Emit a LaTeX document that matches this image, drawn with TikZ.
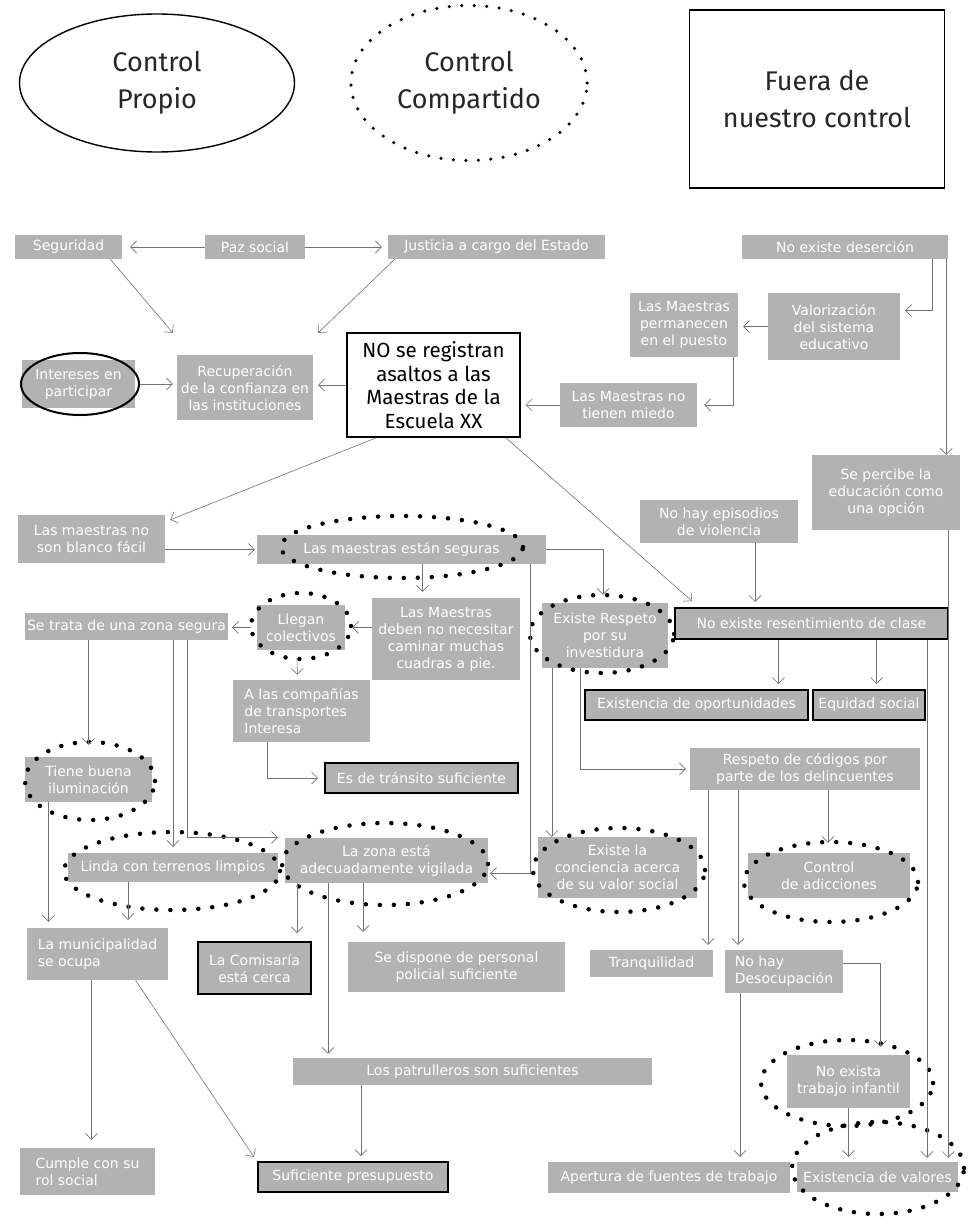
\documentclass[tikz,border=0pt]{standalone}
\usepackage{fontspec}
\setmainfont{DejaVu Sans}
\newfontfamily\legfont{Fira Sans}
\usetikzlibrary{arrows.meta,calc,shapes.geometric}

\begin{document}
\begin{tikzpicture}[x=1pt,y=-1pt,>={Straight Barb[length=6pt,width=12pt]},
  gb/.style={fill=black!30,text=white,font=\fontsize{14}{17}\selectfont,align=center,inner sep=1pt},
  tb/.style={gb,draw=black,line width=2pt},
  sz/.style 2 args={minimum width=#1pt,minimum height=#2pt},
  ar/.style={->,draw=black!55,line width=0.6pt},
  dring/.style={line width=4.5pt,dash pattern=on 0pt off 14pt,line cap=round},
  leg/.style={font=\legfont\fontsize{27}{37}\selectfont,align=center,text=black!85}]
\fill[white] (0,0) rectangle (975,1225);
\useasboundingbox (0,0) rectangle (975,1225);
% legend
\node[leg,draw,ellipse,line width=1.4pt,sz={275}{138}] (propio) at (157,83) {Control\\Propio};
\node[leg,draw,ellipse,line width=3.5pt,dash pattern=on 0pt off 12.5pt,line cap=round,sz={236}{155}] (compart) at (469,83) {Control\\Compartido};
\node[leg,draw,line width=1.4pt,sz={255}{178}] (fuera) at (817,99) {Fuera de\\nuestro control};
% boxes
\node[gb,sz={107}{24}] (seg) at (68.5,247) {Seguridad};
\node[gb,sz={100}{24}] (paz) at (255,247) {Paz social};
\node[gb,sz={217}{24}] (just) at (496.5,247) {Justicia a cargo del Estado};
\node[gb,sz={206}{24}] (des) at (845,247) {No existe deserción};
\node[gb,sz={108}{64}] (perm) at (684,325) {Las Maestras\\permanecen\\en el puesto};
\node[gb,sz={132}{67}] (valor) at (834,326.5) {Valorización\\del sistema\\educativo};
\node[gb,sz={137}{44}] (miedo) at (628.5,405) {Las Maestras no\\tienen miedo};
\node[gb,sz={113}{48}] (inter) at (78.5,384) {Intereses en\\participar};
\node[gb,sz={136}{65}] (recup) at (245,387.5) {Recuperación\\de la confianza en\\las instituciones};
\node[draw,line width=1.6pt,align=center,font=\legfont\fontsize{20.5}{23.5}\selectfont,sz={173}{104}] (NO) at (433.5,385) {NO se registran\\asaltos a las\\Maestras de la\\Escuela XX};
\node[gb,sz={148}{75}] (percibe) at (886,492.5) {Se percibe la\\educación como\\una opción};
\node[gb,sz={147}{48}] (blanco) at (91.5,539) {Las maestras no\\son blanco fácil};
\node[gb,sz={289}{29}] (seguras) at (401.5,549.5) {Las maestras están seguras};
\node[gb,sz={158}{43}] (episod) at (719,521.5) {No hay episodios\\de violencia};
\node[gb,sz={203}{27}] (trata) at (126.5,626.5) {Se trata de una zona segura};
\node[gb,sz={88}{45}] (llegan) at (301,627.5) {Llegan\\colectivos};
\node[gb,sz={148}{82}] (necesit) at (446,639) {Las Maestras\\deben no necesitar\\caminar muchas\\cuadras a pie.};
\node[gb,sz={126}{65}] (respeto) at (605,635.5) {Existe Respeto\\por su\\investidura};
\node[tb,sz={273}{31}] (resent) at (811.5,623.5) {No existe resentimiento de clase};
\node[gb,align=left,sz={137}{62}] (compan) at (301.5,711) {A las compañías\\de transportes\\Interesa};
\node[tb,sz={223}{30}] (opor) at (696.5,705) {Existencia de oportunidades};
\node[tb,sz={112}{30}] (equid) at (869,705) {Equidad social};
\node[tb,sz={193}{30}] (transito) at (421.5,778) {Es de tránsito suficiente};
\node[gb,sz={127}{45}] (ilum) at (88.5,779.5) {Tiene buena\\iluminación};
\node[gb,sz={230}{42}] (codigos) at (805,769) {Respeto de códigos por\\parte de los delincuentes};
\node[gb,sz={210}{29}] (linda) at (173,867.5) {Linda con terrenos limpios};
\node[gb,sz={203}{45}] (zona) at (386.5,860.5) {La zona está\\adecuadamente vigilada};
\node[gb,sz={159}{61}] (concien) at (617.5,867.5) {Existe la\\conciencia acerca\\de su valor social};
\node[gb,sz={162}{45}] (adicc) at (829,875.5) {Control\\de adicciones};
\node[gb,align=left,sz={141}{52}] (muni) at (97.5,954) {La municipalidad\\se ocupa};
\node[tb,sz={113}{52}] (comis) at (254.5,968) {La Comisaría\\está cerca};
\node[gb,sz={217}{50}] (dispone) at (456.5,967) {Se dispone de personal\\policial suficiente};
\node[gb,sz={123}{27}] (tranq) at (651.5,963.5) {Tranquilidad};
\node[gb,align=left,sz={118}{43}] (desoc) at (784,971.5) {No hay\\Desocupación};
\node[gb,sz={359}{27}] (patrul) at (472.5,1071.5) {Los patrulleros son suficientes};
\node[gb,sz={123}{53}] (trabajo) at (848.5,1081.5) {No exista\\trabajo infantil};
\node[gb,align=left,sz={135}{47}] (cumple) at (87.5,1171.5) {Cumple con su\\rol social};
\node[tb,sz={190}{30}] (presup) at (353,1177) {Suficiente presupuesto};
\node[gb,sz={242}{31}] (apert) at (669,1177.5) {Apertura de fuentes de trabajo};
\node[gb,sz={161}{30}] (valores) at (877.5,1177) {Existencia de valores};
% rings
\draw[line width=2pt] (80,384) ellipse [x radius=59pt,y radius=31pt];
\foreach \cx/\cy/\rx/\ry in {402/547/121/31,301/626/50/33,602/634/72/39,90/781/65/39,172/871/108/39,
  385/864/103/41,619/870/86/42,831/882/87/40,847/1083/86/43,878/1168/86/46}
  \draw[dring] (\cx,\cy) ellipse [x radius=\rx pt,y radius=\ry pt];
% connectors
\draw[ar,shorten >=8pt] (paz.west) -- (seg.east); \draw[ar,shorten >=6pt] (paz.east) -- (just.west);
\draw[ar] ([xshift=-12pt]seg.south east) -- ($(recup.north west)+(-4,-22)$);
\draw[ar] ([xshift=7pt]just.south west) -- ($(recup.north east)+(5,-22)$);
\draw[ar,shorten >=4pt] ($(inter.east)+(5,0)$) -- (inter.east -| recup.west);
\draw[ar,shorten >=5pt] (NO.west) -- (NO.west -| recup.east);
\draw[ar,shorten >=5pt] (miedo.west) -- (miedo.west -| NO.east);
\draw[ar,shorten >=5pt] (valor.west) -- (valor.west -| perm.east);
\draw[ar,shorten >=7pt] ([xshift=-5pt]perm.south east) |- (miedo.east);
\draw[ar,shorten >=5pt] ([xshift=-16pt]des.south east) |- ($(valor.east)+(0,-16)$);
\draw[ar] ([xshift=-2pt]des.south east) -- ([xshift=-2pt]des.south east |- percibe.north);
\draw[ar] ([xshift=30pt]NO.south west) -- ($(blanco.north east)+(5,5)$);
\draw[ar] ([xshift=-15pt]NO.south east) -- ($(resent.north west)+(18,-6)$);
\draw[ar,shorten >=2pt] (blanco.east |- seguras.west) -- (seguras.west);
\draw[ar,shorten >=6pt] ([xshift=21pt]seguras.south) -- ([xshift=21pt]seguras.south |- necesit.north);
\draw[ar] (seguras.east) -| ($(respeto.north)+(-2,-8)$);
\draw[ar,shorten >=2pt] ([xshift=-16pt]seguras.south east) |- ($(zona.east)+(0,13)$);
\draw[ar] ([xshift=10pt]respeto.south west) -- ([xshift=10pt]respeto.south west |- concien.north);
\draw[ar,shorten >=4pt] ([xshift=38pt]respeto.south west) |- (codigos.west);
\draw[ar,shorten >=5pt] ([xshift=36pt]episod.south) -- ([xshift=36pt]episod.south |- resent.north);
\draw[ar,shorten >=5pt] ([xshift=-33pt]resent.south) -- ([xshift=-33pt]resent.south |- opor.north);
\draw[ar,shorten >=5pt] ([xshift=65pt]resent.south) -- ([xshift=65pt]resent.south |- equid.north);
\draw[ar,shorten >=4pt] ([xshift=-22pt]resent.south east) -- ([xshift=-22pt]resent.south east |- valores.north);
\draw[ar,shorten >=4pt] ([xshift=-12pt]percibe.south east) -- ([xshift=-12pt]percibe.south east |- valores.north);
\draw[ar,shorten >=4pt] ($(llegan.west)+(-6,0)$) -- (llegan.west -| trata.east);
\draw[ar,shorten >=3pt] (necesit.west |- llegan.east) -- ($(llegan.east)+(4,0)$);
\draw[ar,shorten >=5pt] ($(llegan.south)+(-4,8)$) -- ($(compan.north)+(-4,0)$);
\draw[ar,shorten >=6pt] ([xshift=34pt]compan.south west) |- (transito.west);
\draw[ar] (trata.south -| ilum.north) -- ($(ilum.north)+(0,-12)$);
\draw[ar] (trata.south -| linda.north) -- ($(linda.north)+(0,-6)$);
\draw[ar] ([xshift=61pt]trata.south) |- ($(zona.west)+(-7,-23)$);
\draw[ar,shorten >=6pt] ([xshift=-40pt]ilum.south) -- ([xshift=-40pt]ilum.south |- muni.north);
\draw[ar,shorten >=8pt] ([xshift=-45pt]linda.south) -- ([xshift=-45pt]linda.south |- muni.north);
\draw[ar,shorten >=8pt] ([xshift=-89.5pt]zona.south) -- ([xshift=-89.5pt]zona.south |- comis.north);
\draw[ar,shorten >=4pt] ([xshift=-58.5pt]zona.south) -- ([xshift=-58.5pt]zona.south |- patrul.north);
\draw[ar,shorten >=10pt] ([xshift=-23.5pt]zona.south) -- ([xshift=-23.5pt]zona.south |- dispone.north);
\draw[ar,shorten >=5pt] ([xshift=-97pt]codigos.south) -- ([xshift=-97pt]codigos.south |- tranq.north);
\draw[ar,shorten >=5pt] ([xshift=-67pt]codigos.south) -- ([xshift=-67pt]codigos.south |- desoc.north);
\draw[ar,shorten >=10pt] ([xshift=23pt]codigos.south) -- ([xshift=23pt]codigos.south |- adicc.north);
\draw[ar,shorten >=8pt] ($(desoc.east)+(0,-8)$) -| ([xshift=32pt]trabajo.north);
\draw[ar,shorten >=5pt] ([xshift=-44pt]desoc.south) -- ([xshift=-44pt]desoc.south |- apert.north);
\draw[ar,shorten >=5pt] (trabajo.south) -- (trabajo.south |- valores.north);
\draw[ar,shorten >=8pt] ([xshift=-6pt]muni.south) -- ([xshift=-6pt]muni.south |- cumple.north);
\draw[ar] ([xshift=38pt]muni.south) -- ($(presup.north west)+(-3,-4)$);
\draw[ar,shorten >=5pt] ([xshift=-111.5pt]patrul.south) -- ([xshift=-111.5pt]patrul.south |- presup.north);
\end{tikzpicture}
\end{document}
